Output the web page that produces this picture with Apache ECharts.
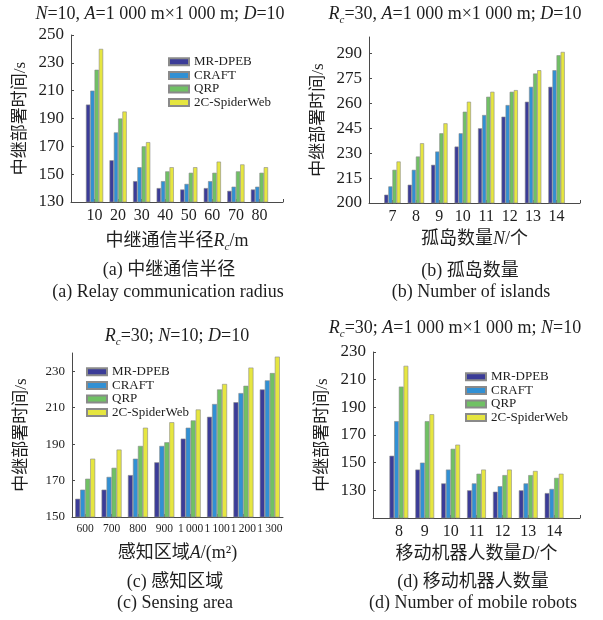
<!DOCTYPE html>
<html>
<head>
<meta charset="utf-8">
<script src="https://cdn.jsdelivr.net/npm/echarts@6/dist/echarts.min.js"></script>
<style>
  html, body { margin: 0; padding: 0; background: #fff; }
  #chart { width: 603px; height: 620px; }
</style>
</head>
<body>
<div id="chart"></div>
<script>
// Relay deployment time (s) of four schemes under four varied parameters.
const seriesNames = ['MR-DPEB', 'CRAFT', 'QRP', '2C-SpiderWeb'];
const seriesColors = ['#3b3c98', '#3190d4', '#70c164', '#e6e640'];

// (a) relay communication radius Rc / m
const radiusX = [10, 20, 30, 40, 50, 60, 70, 80];
const radiusMR = [200, 160, 145, 140, 139, 140, 138, 139];
const radiusCRAFT = [210, 180, 155, 145, 143, 145, 141, 141];
const radiusQRP = [225, 190, 170, 152, 151, 151, 152, 151];
const radiusSpider = [240, 195, 173, 155, 155, 159, 157, 155];

// (b) number of islands N
const islandsX = [7, 8, 9, 10, 11, 12, 13, 14];
const islandsMR = [205, 211, 223, 234, 245, 252, 261, 270];
const islandsCRAFT = [210, 220, 231, 242, 253, 259, 270, 280];
const islandsQRP = [220, 228, 242, 255, 264, 267, 278, 289];
const islandsSpider = [225, 236, 248, 261, 267, 268, 280, 291];

// (c) sensing area A (thin spaces group the thousands)
const areaLabels = ['600', '700', '800', '900', '1\u2009000', '1\u2009100', '1\u2009200', '1\u2009300'];
const areaMR = [160, 165, 173, 180, 193, 205, 213, 220];
const areaCRAFT = [165, 172, 182, 189, 199, 212, 218, 225];
const areaQRP = [171, 177, 189, 191, 203, 220, 222, 229];
const areaSpider = [182, 187, 199, 202, 209, 223, 232, 238];

// (d) number of mobile robots D
const robotsX = [8, 9, 10, 11, 12, 13, 14];
const robotsMR = [155, 145, 135, 130, 129, 130, 128];
const robotsCRAFT = [180, 150, 145, 135, 133, 135, 131];
const robotsQRP = [205, 180, 160, 142, 141, 141, 139];
const robotsSpider = [220, 185, 163, 145, 145, 144, 142];

const LATIN = "'Liberation Serif', 'Times New Roman', serif";
const MIXED = "'Liberation Serif', 'Noto Sans CJK SC', serif";
const INK = '#1e1e1e';
const AXIS = '#4a4a4a';

const richBase = {
  i: { fontStyle: 'italic', fontFamily: LATIN, fontSize: 18, color: INK },
  sub: { fontStyle: 'italic', fontFamily: LATIN, fontSize: 11, color: INK, verticalAlign: 'bottom', lineHeight: 24 }
};

const panels = [
  { xs: radiusX, data: [radiusMR, radiusCRAFT, radiusQRP, radiusSpider], barW: 4.3,
    grid: { left: 71, right: 320, top: 35, bottom: 418 },
    x: { type: 'value', min: 0, max: 90, interval: 10 },
    y: { min: 130, max: 250, interval: 20 }, yFont: 17, xFont: 16,
    xName: '中继通信半径{i|R}{sub|c}/m', yName: '中继部署时间/s', showMax: true, showMin: true },
  { xs: islandsX, data: [islandsMR, islandsCRAFT, islandsQRP, islandsSpider], barW: 4.1,
    grid: { left: 369, right: 23, top: 37, bottom: 417 },
    x: { type: 'value', min: 6, max: 15, interval: 1 },
    y: { min: 200, max: 300, interval: 15 }, yFont: 17, xFont: 16,
    xName: '孤岛数量{i|N}/个', yName: '中继部署时间/s', showMax: false, showMin: true },
  { xs: areaLabels, data: [areaMR, areaCRAFT, areaQRP, areaSpider], barW: 5,
    grid: { left: 72, right: 320, top: 353, bottom: 103 },
    x: { type: 'category', data: areaLabels },
    y: { min: 150, max: 240, interval: 20 }, yFont: 13, xFont: 11.5,
    xName: '感知区域{i|A}/(m²)', yName: '中继部署时间/s', showMax: false, showMin: true },
  { xs: robotsX, data: [robotsMR, robotsCRAFT, robotsQRP, robotsSpider], barW: 4.7,
    grid: { left: 373, right: 23, top: 352, bottom: 102 },
    x: { type: 'value', min: 7, max: 15, interval: 1 },
    y: { min: 110, max: 230, interval: 20 }, yFont: 17, xFont: 16,
    xName: '移动机器人数量{i|D}/个', yName: '中继部署时间/s', showMax: true, showMin: false }
];

const grids = [], xAxes = [], yAxes = [], series = [];
panels.forEach((p, k) => {
  grids.push(Object.assign({ containLabel: false }, p.grid));
  const xa = Object.assign({
    gridIndex: k,
    name: p.xName,
    nameLocation: 'middle',
    nameGap: 27,
    nameTextStyle: { fontFamily: MIXED, fontSize: 18, color: INK, rich: richBase },
    axisLine: { show: true, onZero: false, lineStyle: { color: AXIS, width: 1 } },
    axisTick: { show: true, inside: true, length: 3, lineStyle: { color: AXIS } },
    splitLine: { show: false },
    axisLabel: { fontFamily: LATIN, fontSize: p.xFont, color: INK, margin: 6 }
  }, p.x);
  if (p.x.type === 'value') {
    const ticks = p.xs;
    xa.axisLabel.formatter = v => (ticks.indexOf(v) >= 0 ? String(v) : '');
  } else {
    xa.axisTick.alignWithLabel = true;
    xa.axisLabel.interval = 0;
  }
  xAxes.push(xa);
  yAxes.push(Object.assign({
    type: 'value',
    gridIndex: k,
    name: p.yName,
    nameLocation: 'middle',
    nameRotate: 90,
    nameGap: 42,
    nameTextStyle: { fontFamily: MIXED, fontSize: 17, color: INK },
    axisLine: { show: true, lineStyle: { color: AXIS, width: 1 } },
    axisTick: { show: true, inside: true, length: 3, lineStyle: { color: AXIS } },
    splitLine: { show: false },
    axisLabel: { fontFamily: LATIN, fontSize: p.yFont, color: INK, margin: 7,
                 showMaxLabel: p.showMax, showMinLabel: p.showMin }
  }, p.y));
  p.data.forEach((vals, s) => {
    series.push({
      type: 'bar',
      name: seriesNames[s],
      xAxisIndex: k,
      yAxisIndex: k,
      barWidth: p.barW,
      barGap: '0%',
      clip: true,
      itemStyle: { color: seriesColors[s], borderColor: '#8a8a8a', borderWidth: 0.6 },
      data: p.x.type === 'value' ? vals.map((v, i) => [p.xs[i], v]) : vals
    });
  });
});

function legendAt(left, top) {
  return {
    data: seriesNames,
    orient: 'vertical',
    left: left, top: top,
    itemWidth: 20, itemHeight: 7, itemGap: 0,
    icon: 'rect',
    selectedMode: false,
    textStyle: { fontFamily: LATIN, fontSize: 13, color: INK, lineHeight: 13.6 }
  };
}

function caption(x, y, text) {
  return {
    type: 'text', x: x, y: y,
    style: { text: text, fontFamily: MIXED, fontSize: 18, fill: INK,
             textAlign: 'center', textVerticalAlign: 'middle', rich: richBase }
  };
}

const option = {
  backgroundColor: '#fff',
  animation: false,
  grid: grids,
  xAxis: xAxes,
  yAxis: yAxes,
  legend: [legendAt(163, 50), legendAt(81, 360), legendAt(460, 365)],
  graphic: [
    caption(160, 14, '{i|N}=10, {i|A}=1 000 m×1 000 m; {i|D}=10'),
    caption(455, 14, '{i|R}{sub|c}=30, {i|A}=1 000 m×1 000 m; {i|D}=10'),
    caption(177, 336, '{i|R}{sub|c}=30; {i|N}=10; {i|D}=10'),
    caption(455, 328, '{i|R}{sub|c}=30; {i|A}=1 000 m×1 000 m; {i|N}=10'),
    caption(169, 270, '(a) 中继通信半径'),
    caption(168, 292, '(a) Relay communication radius'),
    caption(470, 271, '(b) 孤岛数量'),
    caption(471, 292, '(b) Number of islands'),
    caption(175, 582, '(c) 感知区域'),
    caption(175, 603, '(c) Sensing area'),
    caption(473, 582, '(d) 移动机器人数量'),
    caption(473, 603, '(d) Number of mobile robots')
  ],
  series: series
};

const chart = echarts.init(document.getElementById('chart'), null, { renderer: 'canvas' });
chart.setOption(option);
</script>
</body>
</html>
